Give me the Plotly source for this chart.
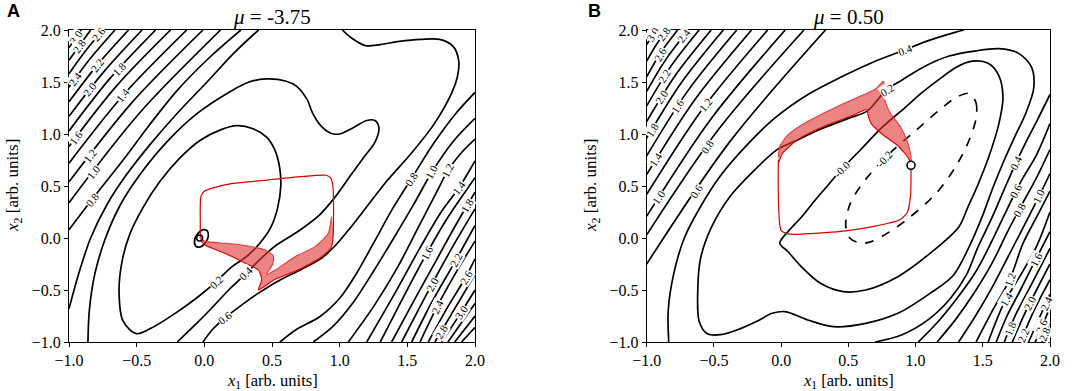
import math
import plotly.graph_objects as go

# ---------------- text ----------------
TICK_VALUES = [-1.0, -0.5, 0.0, 0.5, 1.0, 1.5, 2.0]
TICK_TEXT = ["\u22121.0", "\u22120.5", "0.0", "0.5", "1.0", "1.5", "2.0"]
PANEL_TITLES = ["<i>\u03bc</i> = -3.75", "<i>\u03bc</i> = 0.50"]
PANEL_LETTERS = ["A", "B"]
X_TITLE = "<i>x</i><sub>1</sub> [arb. units]"
Y_TITLE = "<i>x</i><sub>2</sub> [arb. units]"

# ================= Panel A (mu = -3.75) =================
A_TL_LEVELS = [3.0, 2.8, 2.6, 2.4, 2.2, 2.0, 1.8, 1.6, 1.4, 1.2, 1.0, 0.8]
A_TL_X = [[-1.0, -0.955, -0.91], [-1.0, -0.92, -0.84], [-1.0, -0.88, -0.75],
          [-1.0, -0.84, -0.66], [-1.0, -0.79, -0.56], [-1.0, -0.745, -0.46],
          [-1.0, -0.70, -0.36], [-1.0, -0.65, -0.25], [-1.0, -0.595, -0.13],
          [-1.0, -0.54, -0.01], [-1.0, -0.48, 0.12],
          [-1.0, -0.83, -0.60, -0.41, -0.20, 0.05, 0.27]]
A_TL_Y = [[1.83, 1.915, 2.0], [1.71, 1.855, 2.0], [1.58, 1.795, 2.0],
          [1.45, 1.73, 2.0], [1.31, 1.665, 2.0], [1.17, 1.595, 2.0],
          [1.03, 1.53, 2.0], [0.88, 1.46, 2.0], [0.72, 1.38, 2.0],
          [0.54, 1.295, 2.0], [0.34, 1.2, 2.0],
          [0.08, 0.37, 0.75, 1.08, 1.42, 1.75, 2.0]]

A_BR_LEVELS = [0.8, 1.0, 1.2, 1.4, 1.6, 1.8, 2.0, 2.2, 2.4, 2.6, 2.8, 3.0, 3.2, 3.4, 3.6]
A_BR_X = [[0.559, 0.68, 0.85, 1.0, 1.12, 1.25, 1.39, 1.53, 1.70, 1.86, 2.0],
          [0.805, 0.95, 1.10, 1.25, 1.40, 1.55, 1.68, 1.84, 2.0],
          [1.064, 1.25, 1.42, 1.58, 1.72, 1.80, 1.90, 2.0],
          [1.20, 1.40, 1.60, 1.75, 1.88, 2.0],
          [1.30, 1.47, 1.645, 1.80, 2.0],
          [1.384, 1.55, 1.72, 1.86, 2.0],
          [1.458, 1.57, 1.70, 1.85, 2.0],
          [1.532, 1.68, 1.86, 2.0],
          [1.594, 1.72, 1.86, 2.0],
          [1.655, 1.80, 1.93, 2.0],
          [1.704, 1.85, 2.0],
          [1.754, 1.90, 2.0],
          [1.80, 2.0], [1.85, 2.0], [1.90, 2.0]]
A_BR_Y = [[-1.0, -0.88, -0.76, -0.58, -0.35, -0.05, 0.28, 0.57, 0.92, 1.2, 1.40],
          [-1.0, -0.85, -0.62, -0.32, 0.0, 0.33, 0.63, 0.93, 1.15],
          [-1.0, -0.66, -0.30, 0.10, 0.45, 0.65, 0.82, 0.95],
          [-1.0, -0.55, -0.08, 0.25, 0.48, 0.74],
          [-1.0, -0.57, -0.144, 0.2, 0.58],
          [-1.0, -0.6, -0.2, 0.13, 0.44],
          [-1.0, -0.72, -0.40, -0.05, 0.28],
          [-1.0, -0.62, -0.21, 0.12],
          [-1.0, -0.66, -0.33, -0.03],
          [-1.0, -0.66, -0.38, -0.20],
          [-1.0, -0.68, -0.35],
          [-1.0, -0.71, -0.50],
          [-1.0, -0.63], [-1.0, -0.75], [-1.0, -0.86]]

A_IN_LEVELS = [0.0, 0.2, 0.4, 0.6, 0.6]
A_IN_X = [
    [-0.065, -0.072, -0.05, -0.01, 0.02, 0.03, 0.01, -0.03, -0.065],
    [-0.50, -0.60, -0.63, -0.61, -0.55, -0.45, -0.33, -0.18, -0.03, 0.12, 0.24, 0.36, 0.46,
     0.52, 0.555, 0.565, 0.54, 0.49, 0.41, 0.32, 0.20, 0.08, -0.05, -0.21, -0.37, -0.50],
    [-0.86, -0.85, -0.81, -0.73, -0.62, -0.47, -0.28, -0.05, 0.18, 0.33, 0.455, 0.60, 0.68,
     0.76, 0.80, 0.86, 0.93, 1.00, 1.10, 1.20, 1.26, 1.29, 1.26, 1.18, 1.08, 0.97, 0.85,
     0.70, 0.52, 0.40, 0.31, 0.18, 0.05, -0.08, -0.20],
    [-1.0, -0.93, -0.84, -0.72, -0.58, -0.40, -0.20, 0.02, 0.22, 0.40],
    [1.02, 1.08, 1.19, 1.30, 1.44, 1.60, 1.74, 1.84, 1.88, 1.87, 1.83, 1.70, 1.52, 1.35,
     1.20, 1.08, 0.97, 0.87, 0.72, 0.55, 0.40, 0.28, 0.15, 0.06, -0.01],
]
A_IN_Y = [
    [-0.075, -0.02, 0.04, 0.08, 0.07, 0.02, -0.04, -0.085, -0.075],
    [-0.92, -0.80, -0.53, -0.24, 0.04, 0.30, 0.54, 0.77, 0.94, 1.04, 1.08, 1.05, 0.97,
     0.85, 0.69, 0.50, 0.28, 0.10, -0.05, -0.17, -0.28, -0.43, -0.57, -0.72, -0.85, -0.92],
    [-1.0, -0.70, -0.35, 0.0, 0.32, 0.62, 0.92, 1.20, 1.40, 1.50, 1.53, 1.51, 1.46,
     1.33, 1.20, 1.08, 1.01, 1.00, 1.06, 1.13, 1.13, 1.06, 0.92, 0.78, 0.60, 0.40, 0.22,
     0.07, -0.08, -0.22, -0.34, -0.50, -0.68, -0.85, -1.0],
    [-0.68, -0.35, 0.0, 0.32, 0.60, 0.90, 1.20, 1.50, 1.78, 2.0],
    [2.0, 1.93, 1.85, 1.86, 1.89, 1.91, 1.91, 1.84, 1.70, 1.55, 1.40, 1.10, 0.80, 0.55,
     0.30, 0.10, -0.07, -0.19, -0.30, -0.41, -0.53, -0.64, -0.77, -0.88, -1.0],
]

A_LAB_TEXT = ["3.0", "2.8", "2.6", "2.4", "2.2", "2.0", "1.8", "1.6", "1.4", "1.2", "1.0", "0.8",
              "0.2", "0.4", "0.6",
              "0.8", "1.0", "1.2", "1.4", "1.6", "1.8", "2.0", "2.2", "2.4", "2.6", "2.8", "3.0"]
A_LAB_X = [-0.945, -0.925, -0.78, -0.955, -0.79, -0.845, -0.63, -0.95, -0.60, -0.845, -0.82, -0.83,
           0.09, 0.31, 0.15,
           1.53, 1.68, 1.80, 1.88, 1.645, 1.94, 1.67, 1.86, 1.72, 1.93, 1.75, 1.90]
A_LAB_Y = [1.93, 1.85, 1.96, 1.53, 1.665, 1.43, 1.63, 0.96, 1.37, 0.79, 0.64, 0.37,
           -0.42, -0.34, -0.77,
           0.57, 0.63, 0.65, 0.48, -0.144, 0.32, -0.44, -0.21, -0.66, -0.38, -0.90, -0.71]

A_RED_LOOP_X = [0.953, 0.955, 0.95, 0.935, 0.90, 0.71, 0.46, 0.21, 0.06, 0.0, -0.025, -0.03, -0.03, -0.03]
A_RED_LOOP_Y = [0.045, 0.30, 0.50, 0.575, 0.603, 0.59, 0.557, 0.525, 0.48, 0.45, 0.40, 0.30, 0.15, 0.0]
A_FAN_UPPER_X = [-0.03, 0.0, 0.10, 0.276, 0.448, 0.51, 0.505, 0.46, 0.522, 0.67, 0.818, 0.916, 0.94]
A_FAN_UPPER_Y = [0.0, -0.03, -0.045, -0.067, -0.115, -0.17, -0.25, -0.35, -0.31, -0.18, -0.083, 0.045, 0.205]
A_FAN_LOWER_X = [-0.03, 0.005, 0.153, 0.30, 0.40, 0.424, 0.40, 0.52, 0.72, 0.867, 0.94, 0.953]
A_FAN_LOWER_Y = [-0.02, -0.067, -0.147, -0.24, -0.31, -0.40, -0.50, -0.40, -0.29, -0.18, -0.083, 0.045]
A_FIXED_POINT = [-0.035, 0.0]

# ================= Panel B (mu = 0.50) =================
B_TL_LEVELS = [3.0, 2.8, 2.6, 2.4, 2.2, 2.0, 1.8, 1.6, 1.4, 1.2, 1.0, 0.8, 0.6]
B_TL_X = [[-1, -0.965, -0.93], [-1, -0.93, -0.85], [-1, -0.895, -0.77], [-1, -0.858, -0.69],
          [-1, -0.822, -0.61], [-1, -0.78, -0.52], [-1, -0.739, -0.43], [-1, -0.693, -0.33],
          [-1, -0.642, -0.22], [-1, -0.586, -0.10], [-1, -0.526, 0.03], [-1, -0.461, 0.17],
          [-1, -0.387, 0.33]]
B_TL_Y = [[1.86, 1.93, 2.0], [1.70, 1.855, 2.0], [1.55, 1.783, 2.0], [1.41, 1.716, 2.0],
          [1.27, 1.648, 2.0], [1.12, 1.576, 2.0], [0.96, 1.499, 2.0], [0.79, 1.417, 2.0],
          [0.61, 1.33, 2.0], [0.42, 1.239, 2.0], [0.21, 1.138, 2.0], [0.03, 1.052, 2.0],
          [-0.25, 0.917, 2.0]]

B_BR_LEVELS = [0.6, 0.8, 1.0, 1.2, 1.4, 1.6, 1.8, 2.0, 2.2, 2.4, 2.6, 2.8, 3.0]
B_BR_X = [[2.0, 1.90, 1.80, 1.746, 1.66, 1.56, 1.45, 1.32, 1.17, 1.02],
          [2.0, 1.90, 1.77, 1.68, 1.57, 1.44, 1.30, 1.16],
          [2.0, 1.918, 1.82, 1.70, 1.58, 1.45, 1.32],
          [2.0, 1.90, 1.80, 1.70, 1.58, 1.45],
          [2.0, 1.90, 1.78, 1.66, 1.54],
          [2.0, 1.893, 1.78, 1.68, 1.60],
          [2.0, 1.86, 1.74, 1.66],
          [2.0, 1.90, 1.80, 1.72],
          [2.0, 1.88, 1.78],
          [2.0, 1.84], [2.0, 1.89], [2.0, 1.94], [2.0, 1.98]]
B_BR_Y = [[1.10, 0.80, 0.58, 0.449, 0.22, -0.05, -0.32, -0.56, -0.80, -1.0],
          [0.85, 0.58, 0.272, 0.05, -0.24, -0.52, -0.78, -1.0],
          [0.62, 0.40, 0.15, -0.15, -0.45, -0.74, -1.0],
          [0.45, 0.20, -0.05, -0.40, -0.68, -1.0],
          [0.25, -0.08, -0.36, -0.62, -1.0],
          [0.06, -0.208, -0.50, -0.75, -1.0],
          [-0.10, -0.45, -0.75, -1.0],
          [-0.25, -0.50, -0.76, -1.0],
          [-0.40, -0.70, -1.0],
          [-0.54, -1.0], [-0.67, -1.0], [-0.80, -1.0], [-0.92, -1.0]]

B_IN_LEVELS = [0.0, 0.2, 0.4, 0.4]
B_IN_X = [
    [-0.01, 0.05, 0.15, 0.254, 0.35, 0.445, 0.589, 0.756, 0.90, 1.05, 1.18, 1.30, 1.42, 1.54,
     1.62, 1.65, 1.62, 1.55, 1.46, 1.39, 1.323, 1.108, 0.868, 0.629, 0.461, 0.293, 0.15, 0.05, -0.01],
    [0.70, 0.64, 0.50, 0.30, 0.10, -0.03, -0.20, -0.38, -0.52, -0.60, -0.62, -0.61, -0.55,
     -0.45, -0.33, -0.18, -0.066, 0.03, 0.198, 0.389, 0.629, 0.868, 1.108, 1.28, 1.40, 1.50,
     1.58, 1.66, 1.74, 1.82, 1.88, 1.86, 1.76, 1.62, 1.45, 1.25, 1.066, 0.90, 0.78, 0.70],
    [-0.836, -0.84, -0.80, -0.72, -0.60, -0.45, -0.25, -0.05, 0.20, 0.45, 0.70, 0.922, 1.10, 1.30, 1.36],
    [2.0, 1.90, 1.82, 1.746, 1.66, 1.57, 1.46, 1.38, 1.26, 1.10, 0.90, 0.70],
]
B_IN_Y = [
    [-0.05, 0.06, 0.2, 0.365, 0.51, 0.654, 0.846, 1.07, 1.23, 1.40, 1.53, 1.64, 1.70, 1.68,
     1.56, 1.35, 1.10, 0.80, 0.50, 0.30, 0.109, -0.147, -0.372, -0.50, -0.516, -0.436, -0.276, -0.13, -0.05],
    [1.30, 1.22, 1.15, 1.05, 0.93, 0.85, 0.65, 0.40, 0.10, -0.20, -0.50, -0.80, -0.92,
     -0.93, -0.885, -0.80, -0.724, -0.708, -0.788, -0.853, -0.821, -0.724, -0.532, -0.36, -0.08, 0.22,
     0.50, 0.75, 0.98, 1.20, 1.45, 1.65, 1.78, 1.82, 1.80, 1.75, 1.65, 1.52, 1.42, 1.30],
    [-1.0, -0.70, -0.35, 0.0, 0.30, 0.60, 0.90, 1.15, 1.38, 1.55, 1.70, 1.81, 1.90, 1.98, 2.0],
    [1.38, 1.12, 0.92, 0.721, 0.47, 0.20, -0.10, -0.35, -0.58, -0.78, -0.93, -1.0],
]
B_DASH_LEVEL = -0.2
B_DASH_X = [1.40, 1.45, 1.45, 1.40, 1.30, 1.156, 0.934, 0.77, 0.66, 0.59, 0.51, 0.48, 0.516,
            0.627, 0.81, 1.008, 1.18, 1.30, 1.40]
B_DASH_Y = [1.39, 1.30, 1.15, 0.945, 0.69, 0.433, 0.176, 0.03, -0.04, -0.048, 0.0, 0.13, 0.337,
            0.561, 0.817, 1.04, 1.234, 1.35, 1.39]

B_LAB_TEXT = ["3.0", "2.8", "2.6", "2.4", "2.2", "2.0", "1.8", "1.6", "1.4", "1.2", "1.0", "0.8", "0.6",
              "0.4", "0.2", "-0.0", "-0.2",
              "0.4", "0.6", "0.8", "1.0", "1.2", "1.4", "1.6", "1.8", "2.0", "2.2", "2.4", "2.6", "2.8"]
B_LAB_X = [-0.94, -0.86, -0.885, -0.713, -0.861, -0.885, -0.959, -0.762, -0.922, -0.566, -0.897, -0.553, -0.627,
           0.922, 0.787, 0.455, 0.74,
           1.746, 1.746, 1.77, 1.918, 1.70, 1.67, 1.893, 1.70, 1.84, 1.80, 1.95, 1.94, 1.97]
B_LAB_Y = [1.95, 1.95, 1.75, 1.93, 1.55, 1.35, 1.04, 1.26, 0.75, 1.28, 0.38, 0.88, 0.45,
           1.81, 1.43, 0.66, 0.79,
           0.721, 0.449, 0.272, 0.40, -0.40, -0.58, -0.208, -0.87, -0.62, -0.93, -0.62, -0.85, -0.93]

B_RED_LOOP_X = [-0.02, -0.022, -0.02, -0.012, 0.0, 0.04, 0.123, 0.443, 0.688, 0.885, 0.94, 0.962, 0.966, 0.966]
B_RED_LOOP_Y = [0.75, 0.60, 0.369, 0.15, 0.07, 0.045, 0.035, 0.064, 0.112, 0.176, 0.25, 0.40, 0.55, 0.70]
B_FAN_OUTER_X = [0.966, 0.966, 0.934, 0.885, 0.811, 0.77, 0.762, 0.70, 0.60, 0.443, 0.197, 0.049, -0.01, -0.02]
B_FAN_OUTER_Y = [0.70, 0.785, 0.946, 1.074, 1.202, 1.33, 1.506, 1.43, 1.37, 1.28, 1.12, 0.99, 0.88, 0.78]
B_FAN_INNER_X = [0.966, 0.95, 0.875, 0.76, 0.67, 0.645, 0.64, 0.516, 0.32, 0.123, 0.012, -0.02]
B_FAN_INNER_Y = [0.70, 0.76, 0.88, 0.99, 1.10, 1.19, 1.234, 1.17, 1.074, 0.946, 0.817, 0.72]
B_FIXED_POINT = [0.966, 0.699]

# ---------------- geometry (style) ----------------
W, H = 1084, 391
XDOM = [[69 / W, 475 / W], [646.7 / W, 1050 / W]]
YDOM = [49 / H, 361 / H]
SERIF = "Liberation Serif"

fig = go.Figure()


def collect(levels, xs, ys):
    return [(lv, x, y) for lv, x, y in zip(levels, xs, ys)]


def add_lines(lines, xr, yr, dash="solid"):
    for lv, x, y in lines:
        fig.add_trace(go.Scatter(x=x, y=y, mode="lines", xaxis=xr, yaxis=yr,
                                 line=dict(color="black", width=1.7, shape="spline",
                                           smoothing=0.9, dash=dash),
                                 hoverinfo="skip", showlegend=False))


def snap(lines, level, x, y, sx, sy):
    best = None
    for lv, xs, ys in lines:
        if abs(lv - level) > 1e-9:
            continue
        for i in range(len(xs) - 1):
            ax, ay = xs[i] * sx, ys[i] * sy
            bx, by = xs[i + 1] * sx, ys[i + 1] * sy
            px, py = x * sx, y * sy
            vx, vy = bx - ax, by - ay
            l2 = vx * vx + vy * vy
            t = 0.0 if l2 == 0 else max(0.0, min(1.0, ((px - ax) * vx + (py - ay) * vy) / l2))
            qx, qy = ax + t * vx, ay + t * vy
            d = (qx - px) ** 2 + (qy - py) ** 2
            if best is None or d < best[0]:
                best = (d, qx / sx, qy / sy, math.degrees(math.atan2(vy, vx)))
    if best is None:
        return x, y, 0
    _, qx, qy, ang = best
    if ang > 90:
        ang -= 180
    if ang < -90:
        ang += 180
    return qx, qy, -ang


def add_labels(lines, texts, lx, ly, xr, yr, k):
    sx = (XDOM[k][1] - XDOM[k][0]) * W / 3.0
    sy = (YDOM[1] - YDOM[0]) * H / 3.0
    for t, x, y in zip(texts, lx, ly):
        qx, qy, ang = snap(lines, float(t), x, y, sx, sy)
        fig.add_annotation(x=qx, y=qy, xref=xr, yref=yr, text=t, showarrow=False,
                           textangle=ang, bgcolor="white", borderpad=0,
                           xanchor="center", yanchor="middle",
                           font=dict(family=SERIF, size=11, color="black"))


def add_band(ux, uy, lx, ly, xr, yr):
    px = list(ux) + list(reversed(lx))
    py = list(uy) + list(reversed(ly))
    fig.add_trace(go.Scatter(x=px, y=py, mode="lines", fill="toself", xaxis=xr, yaxis=yr,
                             fillcolor="rgba(224,50,50,0.6)",
                             line=dict(width=0, shape="spline", smoothing=0.6),
                             hoverinfo="skip", showlegend=False))
    for xx, yy, col in ((ux, uy, "#e23a3a"), (lx, ly, "#d40000")):
        fig.add_trace(go.Scatter(x=xx, y=yy, mode="lines", xaxis=xr, yaxis=yr,
                                 line=dict(color=col, width=1.1, shape="spline", smoothing=0.6),
                                 hoverinfo="skip", showlegend=False))


def add_red(x, y, xr, yr):
    fig.add_trace(go.Scatter(x=x, y=y, mode="lines", xaxis=xr, yaxis=yr,
                             line=dict(color="#d40000", width=1.2, shape="spline", smoothing=0.6),
                             hoverinfo="skip", showlegend=False))


# ---- panel A ----
A_LINES = (collect(A_TL_LEVELS, A_TL_X, A_TL_Y) + collect(A_BR_LEVELS, A_BR_X, A_BR_Y)
           + collect(A_IN_LEVELS, A_IN_X, A_IN_Y))
add_lines(A_LINES, "x", "y")
add_band(A_FAN_UPPER_X, A_FAN_UPPER_Y, A_FAN_LOWER_X, A_FAN_LOWER_Y, "x", "y")
add_red(A_RED_LOOP_X, A_RED_LOOP_Y, "x", "y")
fig.add_trace(go.Scatter(x=[A_FIXED_POINT[0]], y=[A_FIXED_POINT[1]], mode="markers", xaxis="x", yaxis="y",
                         marker=dict(size=6, color="rgba(255,255,255,0)", line=dict(color="black", width=1.5)),
                         hoverinfo="skip", showlegend=False))
add_labels(A_LINES, A_LAB_TEXT, A_LAB_X, A_LAB_Y, "x", "y", 0)

# ---- panel B ----
B_LINES = (collect(B_TL_LEVELS, B_TL_X, B_TL_Y) + collect(B_BR_LEVELS, B_BR_X, B_BR_Y)
           + collect(B_IN_LEVELS, B_IN_X, B_IN_Y))
B_DASHED = [(B_DASH_LEVEL, B_DASH_X, B_DASH_Y)]
add_lines(B_LINES, "x2", "y2")
add_lines(B_DASHED, "x2", "y2", dash="dash")
add_band(B_FAN_OUTER_X, B_FAN_OUTER_Y, B_FAN_INNER_X, B_FAN_INNER_Y, "x2", "y2")
add_red(B_RED_LOOP_X, B_RED_LOOP_Y, "x2", "y2")
fig.add_trace(go.Scatter(x=[B_FIXED_POINT[0]], y=[B_FIXED_POINT[1]], mode="markers", xaxis="x2", yaxis="y2",
                         marker=dict(size=8, color="white", line=dict(color="black", width=1.6)),
                         hoverinfo="skip", showlegend=False))
add_labels(B_LINES + B_DASHED, B_LAB_TEXT, B_LAB_X, B_LAB_Y, "x2", "y2", 1)

# ---------------- axes ----------------
axis_style = dict(range=[-1, 2], showgrid=False, zeroline=False, showline=True, mirror=True,
                  linecolor="black", linewidth=1, ticks="outside", ticklen=4, tickwidth=1,
                  tickcolor="black", tickvals=TICK_VALUES, ticktext=TICK_TEXT, automargin=False,
                  tickfont=dict(family=SERIF, size=16, color="black"))
fig.update_layout(
    width=W, height=H, margin=dict(l=0, r=0, t=0, b=0, autoexpand=False),
    paper_bgcolor="white", plot_bgcolor="white", showlegend=False,
    xaxis=dict(domain=XDOM[0], anchor="y", **axis_style),
    yaxis=dict(domain=YDOM, anchor="x", **axis_style),
    xaxis2=dict(domain=XDOM[1], anchor="y2", **axis_style),
    yaxis2=dict(domain=YDOM, anchor="x2", **axis_style),
)

for k in range(2):
    cx = (XDOM[k][0] + XDOM[k][1]) / 2
    fig.add_annotation(x=cx, y=1 - 17 / H, xref="paper", yref="paper", text=PANEL_TITLES[k],
                       xanchor="center", yanchor="middle", showarrow=False,
                       font=dict(family=SERIF, size=21, color="black"))
    fig.add_annotation(x=cx, y=1 - 380.5 / H, xref="paper", yref="paper", text=X_TITLE,
                       xanchor="center", yanchor="middle", showarrow=False,
                       font=dict(family=SERIF, size=16.5, color="black"))
ylab_x = [14 / W, 592 / W]
letter_x = [5 / W, 586 / W]
for k in range(2):
    fig.add_annotation(x=ylab_x[k], y=(YDOM[0] + YDOM[1]) / 2, xref="paper", yref="paper",
                       text=Y_TITLE, textangle=-90, showarrow=False,
                       xanchor="center", yanchor="middle",
                       font=dict(family=SERIF, size=17, color="black"))
    fig.add_annotation(x=letter_x[k], y=1 - 11 / H, xref="paper", yref="paper",
                       xanchor="left", yanchor="middle",
                       text="<b>" + PANEL_LETTERS[k] + "</b>", showarrow=False,
                       font=dict(family="Liberation Sans", size=18, color="black"))

fig.write_html("out.html", config={"displayModeBar": False},
               post_script="document.body.style.margin='0px';")
